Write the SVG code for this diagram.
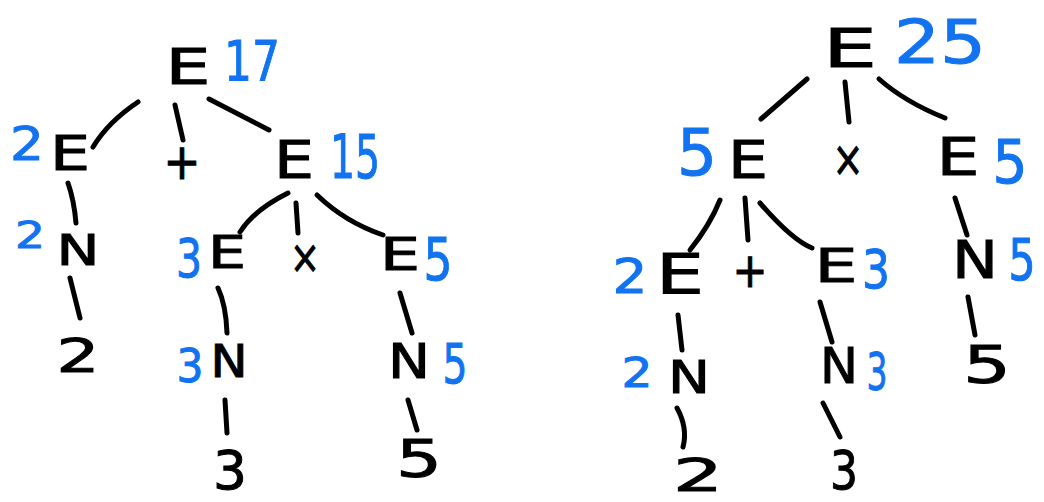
<svg xmlns="http://www.w3.org/2000/svg" width="1044" height="502" viewBox="0 0 1044 502">
  <style>
    text { font-family: "DejaVu Sans", "Liberation Sans", sans-serif; text-anchor: middle; }
    .k { fill: #000; stroke: #000; stroke-width: 1; }
    .v { fill: #1273f0; stroke: #1273f0; stroke-width: 1; }
    .edge { fill: none; stroke: #000; stroke-width: 5; stroke-linecap: round; stroke-linejoin: round; }
  </style>
  <rect width="1044" height="502" fill="#fff"/>

  <!-- connectors -->
  <g id="connectors" class="edge">
    <!-- left tree: 2 + 3 x 5 -->
    <path d="M138 102 Q108 122 93 147"/>
    <path d="M175 105 L183 140"/>
    <path d="M209 99 L269 130"/>
    <path d="M68 183 Q74 200 76 223"/>
    <path d="M70 278 L80 318"/>
    <path d="M288 193 Q254 210 240 232"/>
    <path d="M296 203 L298 233"/>
    <path d="M317 195 Q345 222 383 235"/>
    <path d="M218 288 Q226 305 227 333"/>
    <path d="M225 400 L227 433"/>
    <path d="M400 293 L412 333"/>
    <path d="M408 400 L417 430"/>
    <!-- right tree: (2 + 3) x 5 -->
    <path d="M807 79 L761 119"/>
    <path d="M845 82 L849 122"/>
    <path d="M879 79 Q905 102 945 118"/>
    <path d="M720 200 Q710 225 690 250"/>
    <path d="M745 198 L748 240"/>
    <path d="M760 203 Q792 240 812 248"/>
    <path d="M678 315 L682 350"/>
    <path d="M677 408 Q688 428 683 447"/>
    <path d="M820 302 L832 342"/>
    <path d="M823 403 L840 437"/>
    <path d="M955 198 L967 235"/>
    <path d="M968 297 L975 335"/>
  </g>

  <!-- left tree -->
  <g id="L-root"><text class="k" x="188" y="84" font-size="50" textLength="45" lengthAdjust="spacingAndGlyphs">E</text><text class="v" x="252" y="80" font-size="56" textLength="56" lengthAdjust="spacingAndGlyphs">17</text></g>
  <g id="L-E2"><text class="v" x="27" y="160" font-size="46" textLength="34" lengthAdjust="spacingAndGlyphs">2</text><text class="k" x="70" y="170" font-size="48" textLength="40" lengthAdjust="spacingAndGlyphs">E</text></g>
  <g id="L-plus"><text class="k" x="182" y="179" font-size="50" textLength="37" lengthAdjust="spacingAndGlyphs">+</text></g>
  <g id="L-E15"><text class="k" x="294" y="178" font-size="52" textLength="40" lengthAdjust="spacingAndGlyphs">E</text><text class="v" x="355" y="178" font-size="60" textLength="50" lengthAdjust="spacingAndGlyphs">15</text></g>
  <g id="L-N2"><text class="v" x="30" y="248" font-size="38" textLength="30" lengthAdjust="spacingAndGlyphs">2</text><text class="k" x="78" y="265" font-size="42" textLength="43" lengthAdjust="spacingAndGlyphs">N</text></g>
  <g id="L-num2"><text class="k" x="78" y="372" font-size="47" textLength="43" lengthAdjust="spacingAndGlyphs">2</text></g>
  <g id="L-E3"><text class="v" x="189" y="277" font-size="54" textLength="26" lengthAdjust="spacingAndGlyphs">3</text><text class="k" x="227" y="268" font-size="44" textLength="38" lengthAdjust="spacingAndGlyphs">E</text></g>
  <g id="L-times"><text class="k" x="305" y="273" font-size="46" textLength="30" lengthAdjust="spacingAndGlyphs">×</text></g>
  <g id="L-E5"><text class="k" x="400" y="270" font-size="45" textLength="40" lengthAdjust="spacingAndGlyphs">E</text><text class="v" x="438" y="280" font-size="58" textLength="29" lengthAdjust="spacingAndGlyphs">5</text></g>
  <g id="L-N3"><text class="v" x="190" y="382" font-size="46" textLength="27" lengthAdjust="spacingAndGlyphs">3</text><text class="k" x="229" y="377" font-size="44" textLength="37" lengthAdjust="spacingAndGlyphs">N</text></g>
  <g id="L-num3"><text class="k" x="230" y="489" font-size="54" textLength="34" lengthAdjust="spacingAndGlyphs">3</text></g>
  <g id="L-N5"><text class="k" x="409" y="378" font-size="48" textLength="42" lengthAdjust="spacingAndGlyphs">N</text><text class="v" x="455" y="383" font-size="56" textLength="25" lengthAdjust="spacingAndGlyphs">5</text></g>
  <g id="L-num5"><text class="k" x="419" y="477" font-size="52" textLength="46" lengthAdjust="spacingAndGlyphs">5</text></g>

  <!-- right tree -->
  <g id="R-root"><text class="k" x="850" y="67" font-size="53" textLength="54" lengthAdjust="spacingAndGlyphs">E</text><text class="v" x="940" y="63" font-size="60" textLength="92" lengthAdjust="spacingAndGlyphs">25</text></g>
  <g id="R-E5"><text class="v" x="697" y="175" font-size="64" textLength="40" lengthAdjust="spacingAndGlyphs">5</text><text class="k" x="748" y="178" font-size="52" textLength="40" lengthAdjust="spacingAndGlyphs">E</text></g>
  <g id="R-times"><text class="k" x="848" y="176" font-size="50" textLength="31" lengthAdjust="spacingAndGlyphs">×</text></g>
  <g id="R-E5b"><text class="k" x="958" y="175" font-size="51" textLength="43" lengthAdjust="spacingAndGlyphs">E</text><text class="v" x="1010" y="183" font-size="60" textLength="35" lengthAdjust="spacingAndGlyphs">5</text></g>
  <g id="R-E2"><text class="v" x="630" y="293" font-size="48" textLength="35" lengthAdjust="spacingAndGlyphs">2</text><text class="k" x="680" y="293" font-size="56" textLength="48" lengthAdjust="spacingAndGlyphs">E</text></g>
  <g id="R-plus"><text class="k" x="750" y="287" font-size="48" textLength="35" lengthAdjust="spacingAndGlyphs">+</text></g>
  <g id="R-E3"><text class="k" x="836" y="282" font-size="47" textLength="43" lengthAdjust="spacingAndGlyphs">E</text><text class="v" x="876" y="288" font-size="54" textLength="28" lengthAdjust="spacingAndGlyphs">3</text></g>
  <g id="R-N5"><text class="k" x="975" y="278" font-size="52" textLength="46" lengthAdjust="spacingAndGlyphs">N</text><text class="v" transform="translate(1022 280) scale(1 1.2)" font-size="48" textLength="27" lengthAdjust="spacingAndGlyphs">5</text></g>
  <g id="R-N2"><text class="v" x="637" y="387" font-size="41" textLength="31" lengthAdjust="spacingAndGlyphs">2</text><text class="k" x="689" y="393" font-size="45" textLength="42" lengthAdjust="spacingAndGlyphs">N</text></g>
  <g id="R-N3"><text class="k" x="839" y="383" font-size="49" textLength="38" lengthAdjust="spacingAndGlyphs">N</text><text class="v" x="877" y="390" font-size="52" textLength="21" lengthAdjust="spacingAndGlyphs">3</text></g>
  <g id="R-num5"><text class="k" x="987" y="383" font-size="52" textLength="48" lengthAdjust="spacingAndGlyphs">5</text></g>
  <g id="R-num2"><text class="k" x="698" y="491" font-size="44" textLength="50" lengthAdjust="spacingAndGlyphs">2</text></g>
  <g id="R-num3"><text class="k" x="844" y="489" font-size="54" textLength="28" lengthAdjust="spacingAndGlyphs">3</text></g>
</svg>
